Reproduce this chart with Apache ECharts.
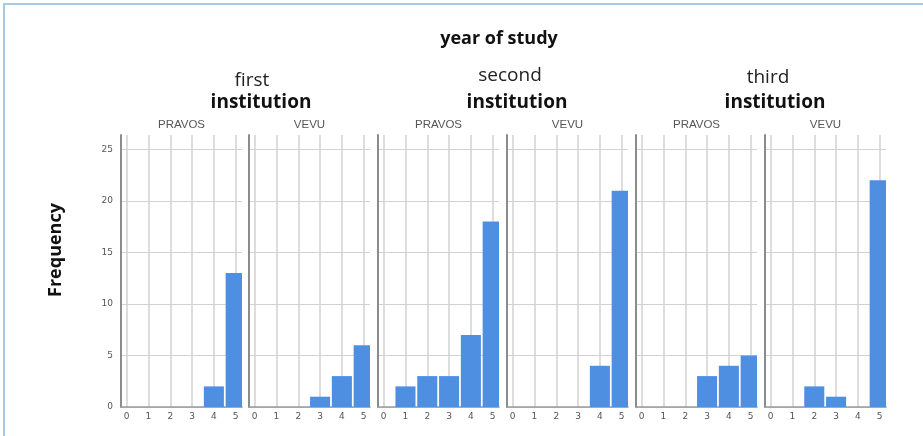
<!DOCTYPE html>
<html><head><meta charset="utf-8">
<script src="https://cdn.jsdelivr.net/npm/echarts@6/dist/echarts.min.js"></script>
<style>
html,body{margin:0;padding:0;background:#fff;overflow:hidden}
#c{position:absolute;left:0;top:0;width:923px;height:436px}
#frame{position:absolute;left:3px;top:3px;width:940px;height:450px;border-top:2px solid #a7c8e6;border-left:2px solid #a7c8e6;pointer-events:none}
</style></head><body>
<div id="c"></div><div id="frame"></div>
<script>
// ---- data ----
const chartTitle = 'year of study';
const yearGroups = ['first', 'second', 'third'];
const groupSubtitle = 'institution';
const institutions = ['PRAVOS', 'VEVU'];
const scoreCategories = [0, 1, 2, 3, 4, 5];
const firstPravos  = [0, 0, 0, 0, 2, 13];
const firstVevu    = [0, 0, 0, 1, 3, 6];
const secondPravos = [0, 2, 3, 3, 7, 18];
const secondVevu   = [0, 0, 0, 0, 4, 21];
const thirdPravos  = [0, 0, 0, 3, 4, 5];
const thirdVevu    = [0, 0, 2, 1, 0, 22];
const yTickValues  = [0, 5, 10, 15, 20, 25];
const yAxisTitle = 'Frequency';

const panels = [firstPravos, firstVevu, secondPravos, secondVevu, thirdPravos, thirdVevu];

// ---- layout ----
const panelLefts = [121, 249, 378, 507, 636, 765];
const panelWidth = 121;
const panelTop = 135;
const panelHeight = 272;
const barColor = '#4f8fe2';
const gridColor = '#d2d2d2';
const axisColor = '#9a9a9a';
const labelColor = '#555';
const barFraction = 0.92;

function renderBar(params, api) {
  const x = api.value(0), y = api.value(1);
  if (!y) return null;
  const half = barFraction / 2;
  const p0 = api.coord([x - half, y]);
  const p1 = api.coord([x + half, 0]);
  const cs = params.coordSys;
  const rect = echarts.graphic.clipRectByRect(
    {x: p0[0], y: p0[1], width: p1[0] - p0[0], height: p1[1] - p0[1]},
    {x: cs.x, y: cs.y, width: cs.width, height: cs.height});
  return rect && {type: 'rect', shape: rect, style: {fill: barColor}};
}

const grids = [], xAxes = [], yAxes = [], series = [], graphics = [];
panels.forEach((vals, i) => {
  grids.push({left: panelLefts[i], top: panelTop, width: panelWidth, height: panelHeight, containLabel: false});
  xAxes.push({
    type: 'value', gridIndex: i, min: -0.26, max: 5.29,
    axisLine: {show: true, onZero: false, lineStyle: {color: axisColor, width: 1.5}},
    axisTick: {show: false, customValues: scoreCategories},
    axisLabel: {customValues: scoreCategories, color: labelColor, fontSize: 9, margin: 5, fontFamily: 'DejaVu Sans'},
    splitLine: {show: true, lineStyle: {color: gridColor, width: 1.5}}
  });
  yAxes.push({
    type: 'value', gridIndex: i, min: 0, max: 26.4, interval: 5,
    axisLine: {show: true, onZero: false, lineStyle: {color: '#8c8c8c', width: 2}},
    axisTick: {show: false, customValues: yTickValues},
    axisLabel: {show: i === 0, customValues: yTickValues, color: labelColor, fontSize: 9, margin: 8, fontFamily: 'DejaVu Sans'},
    splitLine: {show: true, lineStyle: {color: gridColor, width: 1.2}}
  });
  series.push({
    type: 'custom', xAxisIndex: i, yAxisIndex: i,
    renderItem: renderBar,
    encode: {x: 0, y: 1},
    data: scoreCategories.map((c, k) => [c, vals[k]]),
    silent: true
  });
  graphics.push({
    type: 'text', x: panelLefts[i] + panelWidth / 2, y: 125,
    style: {text: institutions[i % 2], fill: '#555', font: '11.5px "Liberation Sans"', textAlign: 'center', textVerticalAlign: 'middle'}
  });
});

const groupTextX = [252, 510, 768];
const groupSubX = [261, 517, 775];
const groupTextY = [81, 76, 78];
yearGroups.forEach((g, j) => {
  graphics.push({type: 'text', x: groupTextX[j], y: groupTextY[j],
    style: {text: g, fill: '#222', font: '19px "Open Sans"', textAlign: 'center', textVerticalAlign: 'middle'}});
  graphics.push({type: 'text', x: groupSubX[j], y: 103,
    style: {text: groupSubtitle, fill: '#111', font: 'bold 19px "Open Sans"', textAlign: 'center', textVerticalAlign: 'middle'}});
});
graphics.push({type: 'text', x: 499, y: 39,
  style: {text: chartTitle, fill: '#111', font: 'bold 18px "Open Sans"', textAlign: 'center', textVerticalAlign: 'middle'}});
graphics.push({type: 'text', x: 56, y: 250, rotation: Math.PI / 2,
  style: {text: yAxisTitle, fill: '#111', font: 'bold 18px "Open Sans"', textAlign: 'center', textVerticalAlign: 'middle'}});

const chart = echarts.init(document.getElementById('c'), null, {renderer: 'canvas'});
chart.setOption({
  animation: false,
  backgroundColor: 'transparent',
  grid: grids, xAxis: xAxes, yAxis: yAxes, series: series,
  graphic: graphics
});
</script>
</body></html>
